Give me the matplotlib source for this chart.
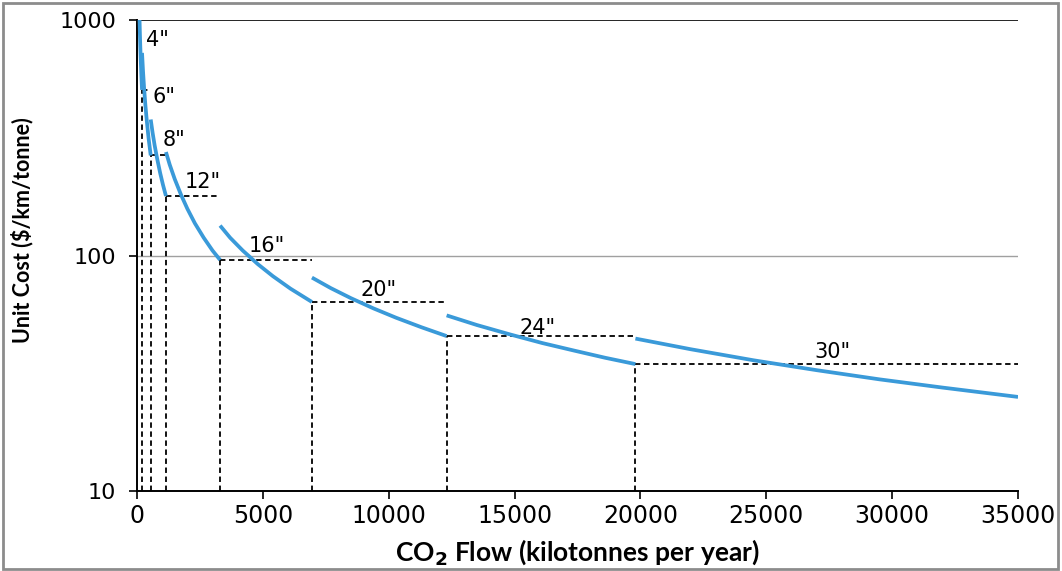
import matplotlib
matplotlib.use('Agg')
import matplotlib.pyplot as plt
from matplotlib.patches import Rectangle

# 每种管径的单位成本曲线 (流量 kt/yr, 成本 $/km/tonne)
flow_4in = [100, 115, 130, 150, 175, 200]
cost_4in = [1010, 878, 777, 673, 577, 505]
flow_6in = [200, 240, 280, 330, 390, 460, 545]
cost_6in = [725, 604, 518, 439, 372, 315, 266]
flow_8in = [545, 620, 700, 800, 920, 1030, 1150]
cost_8in = [378, 332, 294, 258, 224, 200, 179]
flow_12in = [1150, 1300, 1500, 1750, 2000, 2300, 2650, 3000, 3300]
cost_12in = [275, 243, 211, 181, 158, 137, 119, 105, 95.8]
flow_16in = [3300, 3700, 4200, 4800, 5400, 6100, 6950]
cost_16in = [134, 119, 105, 91.9, 81.7, 72.3, 63.5]
flow_20in = [6950, 7700, 8500, 9400, 10300, 11300, 12300]
cost_20in = [80.6, 72.7, 65.9, 59.6, 54.4, 49.6, 45.5]
flow_24in = [12300, 13500, 14800, 16100, 17400, 18600, 19800]
cost_24in = [55.7, 50.7, 46.3, 42.5, 39.4, 36.8, 34.6]
flow_30in = [19800, 22000, 24500, 27000, 29500, 32000, 35000]
cost_30in = [44.4, 40.0, 35.9, 32.6, 29.8, 27.5, 25.1]

# 各管径的最大输送能力点
cap_flow = [200, 545, 1150, 3300, 6950, 12300, 19800]
cap_cost = [505, 266, 179, 95.8, 63.5, 45.5, 34.6]

# 管径标签及位置
size_labels = ['4"', '6"', '8"', '12"', '16"', '20"', '24"', '30"']
label_x = [360, 600, 1030, 1900, 4450, 8860, 15200, 26900]
label_y = [822, 471, 309, 205, 110, 71.4, 49.4, 38.9]

fig = plt.figure(figsize=(10.62, 5.71), dpi=100)
ax = fig.add_axes([0.129, 0.14, 0.8296, 0.825])

blue = '#3a9ad9'
segments = [(flow_4in, cost_4in), (flow_6in, cost_6in), (flow_8in, cost_8in),
            (flow_12in, cost_12in), (flow_16in, cost_16in), (flow_20in, cost_20in),
            (flow_24in, cost_24in), (flow_30in, cost_30in)]
for fx, cy in segments:
    ax.plot(fx, cy, color=blue, lw=2.7, solid_capstyle='butt', zorder=3)

# 虚线: 竖线到x轴, 横线到下一个管径
ends = cap_flow[1:] + [35000]
for i in range(len(cap_flow)):
    ax.plot([cap_flow[i], cap_flow[i]], [10, cap_cost[i]], color='black',
            lw=1.3, ls=(0, (3, 2)), zorder=2)
    ax.plot([cap_flow[i], ends[i]], [cap_cost[i], cap_cost[i]], color='black',
            lw=1.3, ls=(0, (3, 2)), zorder=2)

for lab, lx, ly in zip(size_labels, label_x, label_y):
    ax.text(lx, ly, lab, fontsize=15, ha='left', va='center',
            family='DejaVu Sans', zorder=4)

ax.axhline(100, color='#a0a0a0', lw=1, zorder=1)
ax.axhline(1000, color='black', lw=1.2, zorder=1)

ax.set_yscale('log')
ax.set_ylim(10, 1000)
ax.set_xlim(0, 35000)
ax.set_xticks(range(0, 35001, 5000))
ax.set_yticks([10, 100, 1000])
ax.set_yticklabels(['10', '100', '1000'], fontsize=16, family='DejaVu Sans')
ax.set_xticklabels([str(v) for v in range(0, 35001, 5000)], fontsize=17,
                   family='DejaVu Sans')
ax.minorticks_off()
ax.tick_params(direction='out', length=6, width=1.2, color='black')
ax.tick_params(axis='x', pad=3)
ax.tick_params(axis='y', pad=9)
for s in ['top', 'right']:
    ax.spines[s].set_visible(False)
for s in ['left', 'bottom']:
    ax.spines[s].set_linewidth(1.4)

ax.set_ylabel('Unit Cost ($/km/tonne)', fontsize=15.5, fontweight='bold',
              family='Lato')
ax.yaxis.set_label_coords(-0.118, 0.554)
ax.set_xlabel('CO$_\\mathbf{2}$ Flow (kilotonnes per year)', fontsize=19,
              fontweight='bold', family='Lato', labelpad=7)

# 外框
fig.patches.append(Rectangle((0.003, 0.004), 0.993, 0.99, transform=fig.transFigure,
                             fill=False, edgecolor='#8c8c8c', lw=2))

fig.savefig('out.png', dpi=100)
